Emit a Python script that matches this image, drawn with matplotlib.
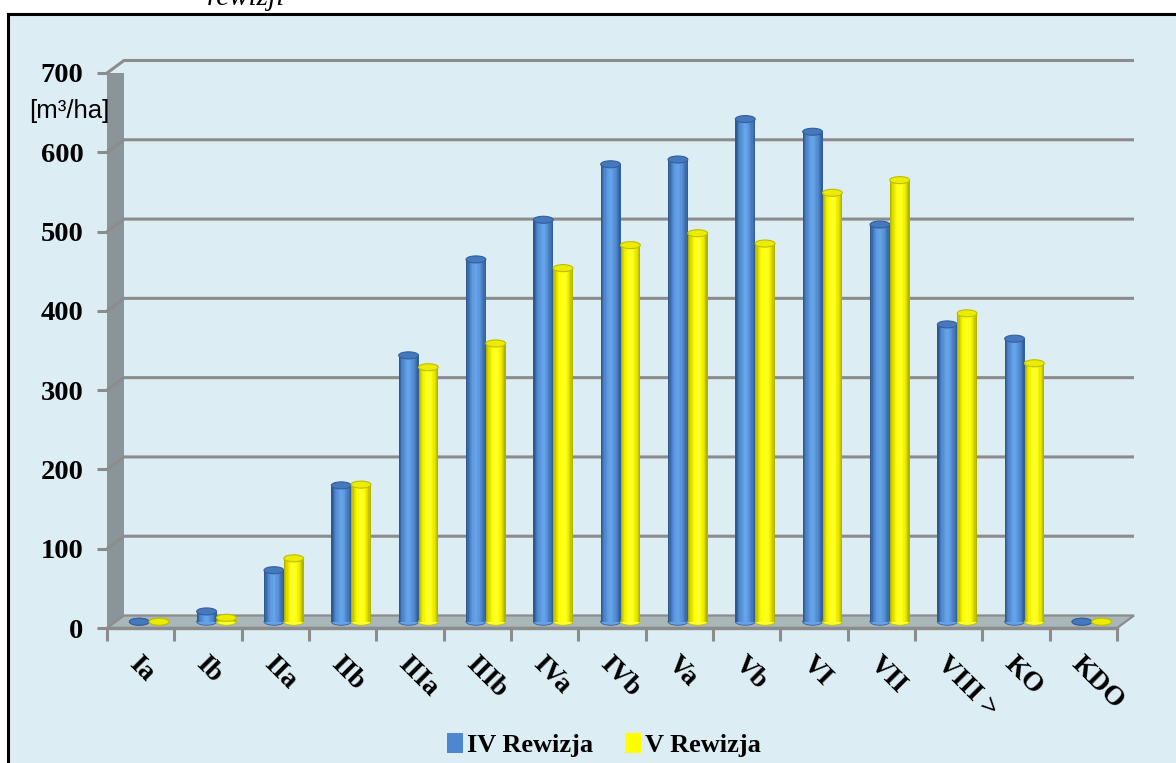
import matplotlib
matplotlib.use('Agg')
import matplotlib.pyplot as plt
from matplotlib.patches import Polygon, Ellipse, Rectangle, Patch
from matplotlib.colors import LinearSegmentedColormap
import numpy as np

# ---------------- data ----------------
categories = ['Ia', 'Ib', 'IIa', 'IIb', 'IIIa', 'IIIb', 'IVa', 'IVb',
              'Va', 'Vb', 'VI', 'VII', 'VIII >', 'KO', 'KDO']
rev_iv = [0, 13, 65, 172, 336, 457, 507, 577, 583, 634, 618, 501, 375, 357, 0]
rev_v = [0, 5, 80, 173, 321, 351, 446, 475, 490, 477, 541, 557, 389, 326, 0]
series_labels = ['IV Rewizja', 'V Rewizja']
yticks = [0, 100, 200, 300, 400, 500, 600, 700]
unit_label = '[m³/ha]'
title_fragment = 'rewizji'

# ---------------- figure / layout ----------------
W, H = 1176, 763
fig = plt.figure(figsize=(W / 100, H / 100), dpi=100)
fig.patch.set_facecolor('white')

BG = '#dcedf4'
# framed background
fig.add_artist(Rectangle((8 / W, -0.05), 1.2, 1 - 14 / H + 0.05,
                         transform=fig.transFigure, facecolor=BG,
                         edgecolor='black', linewidth=2.2, zorder=0))

# front plane: x 0..15 -> px 107..1117 ; y 0..700 -> px 628..73
x0px, x1px, y0px, y1px = 107, 1117, 628, 73
ax = fig.add_axes([x0px / W, 1 - y0px / H, (x1px - x0px) / W, (y0px - y1px) / H])
ax.set_facecolor('none')
n = len(categories)
ax.set_xlim(0, n)
ax.set_ylim(0, 700)
for s in ax.spines.values():
    s.set_visible(False)

px_x = (x1px - x0px) / n          # px per category
px_y = (y0px - y1px) / 700.0      # px per unit
DEP_DX = 17 / px_x                # depth offset (back plane) in data units
DEP_DY = 12.5 / px_y
BAR_DX = DEP_DX / 2
BAR_DY = DEP_DY / 2

GRID = '#8c8c8c'

# left wall
ax.add_patch(Polygon([(0, 0), (0, 700), (DEP_DX, 700 + DEP_DY), (DEP_DX, DEP_DY)],
                     closed=True, facecolor='#8a9599', edgecolor='none', zorder=1))
# gridlines on back wall + diagonal on side wall
for t in yticks[1:]:
    ax.plot([0, DEP_DX, n + DEP_DX], [t, t + DEP_DY, t + DEP_DY],
            color=GRID, lw=2.2, zorder=2, solid_capstyle='butt', clip_on=False)
# floor
ax.add_patch(Polygon([(0, 0), (n, 0), (n + DEP_DX, DEP_DY), (DEP_DX, DEP_DY)],
                     closed=True, facecolor='#a9b6ba', edgecolor=GRID,
                     linewidth=1.6, zorder=3, clip_on=False))
ax.plot([0, n], [0, 0], color=GRID, lw=2.4, zorder=3.1, clip_on=False)

# ---------------- cylinders ----------------
blue_cmap = LinearSegmentedColormap.from_list(
    'b', ['#2d5890', '#4a83ca', '#5c99df', '#67a5ea', '#5b96dc', '#4a7fc2', '#335f9a'])
yellow_cmap = LinearSegmentedColormap.from_list(
    'y', ['#b4b400', '#e6e600', '#ffff00', '#ffff3a', '#ffff00', '#e4e400', '#b2b200'])
styles = [
    (blue_cmap, '#4678bd', '#33609c'),
    (yellow_cmap, '#ecec00', '#bebe00'),
]
bar_w = 19.8 / px_x
EH = 7.0 / px_y
NSTRIP = 16


def cylinder(xc, v, cmap, top_face, top_edge, z):
    cols = cmap(np.linspace(0, 1, NSTRIP))
    edges = np.linspace(xc - bar_w / 2, xc + bar_w / 2, NSTRIP + 1)
    ax.add_patch(Ellipse((xc, BAR_DY), bar_w, EH, facecolor=cols[NSTRIP // 2],
                         edgecolor=top_edge, lw=0.6, zorder=z))
    if v > 0:
        ax.bar(edges[:-1], [v] * NSTRIP, width=bar_w / NSTRIP * 1.08, bottom=BAR_DY,
               align='edge', color=cols, linewidth=0, zorder=z + 0.1)
    ax.add_patch(Ellipse((xc, v + BAR_DY), bar_w, EH, facecolor=top_face,
                         edgecolor=top_edge, lw=0.8, zorder=z + 0.2))


for i in range(n):
    gc = i + 0.5 + BAR_DX
    for k, vals in enumerate([rev_iv, rev_v]):
        cmap, tf, te = styles[k]
        xc = gc + (k - 0.5) * bar_w
        cylinder(xc, vals[i], cmap, tf, te, 10 + i * 2 + k)

# ---------------- axes ticks / labels ----------------
ax.set_yticks(yticks)
ax.set_yticklabels([str(t) for t in yticks])
ax.tick_params(axis='y', length=7, width=2.2, color=GRID, pad=10,
               labelsize=20.5)
for lab in ax.get_yticklabels():
    lab.set_fontfamily('Liberation Serif')
    lab.set_fontweight('bold')

ax.set_xticks(np.arange(0, n + 1))
ax.set_xticklabels([])
ax.tick_params(axis='x', length=9, width=2.2, color=GRID, direction='out')

for i, c in enumerate(categories):
    ax.text(i + 0.5 + 1 / px_x, -24 / px_y, c, rotation=-45, rotation_mode='anchor',
            ha='left', va='top', fontsize=20, fontweight='bold',
            family='Liberation Serif', clip_on=False)

fig.text(69 / W, 1 - 111 / H, unit_label, ha='center', va='center',
         fontsize=18.5, family='Liberation Sans')

fig.text(207 / W, 1 - 5 / H, title_fragment, ha='left', va='baseline',
         fontsize=21, style='italic', family='Liberation Serif')

handles = [Patch(facecolor='#4f86d0', edgecolor='none'),
           Patch(facecolor='#ffff00', edgecolor='none')]
fig.legend(handles, series_labels, loc='center', bbox_to_anchor=(604 / W, 1 - 745 / H),
           ncol=2, frameon=False, handlelength=0.6, handleheight=0.8,
           handletextpad=0.15, columnspacing=1.2,
           prop={'family': 'Liberation Serif', 'weight': 'bold', 'size': 19})

fig.savefig('out.png', dpi=100, facecolor='white')
